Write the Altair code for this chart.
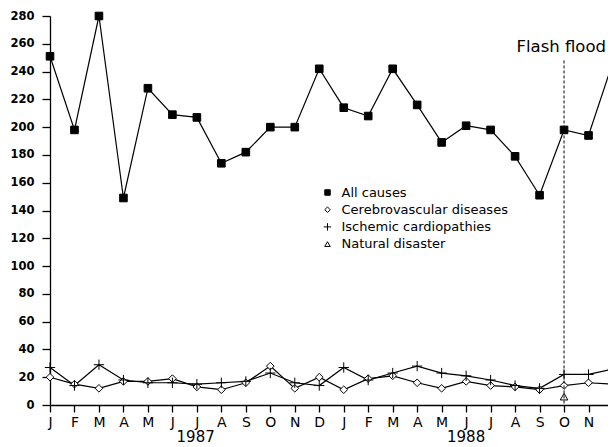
import altair as alt
import pandas as pd

month_letters = ["J", "F", "M", "A", "M", "J", "J", "A", "S", "O", "N", "D"] * 2
all_causes = [251, 198, 280, 149, 228, 209, 207, 174, 182, 200, 200, 242,
              214, 208, 242, 216, 189, 201, 198, 179, 151, 198, 194, 247]
cerebro = [20, 15, 12, 17, 17, 19, 13, 11, 16, 28, 12, 20,
           11, 19, 21, 16, 12, 17, 14, 13, 11, 14, 16, 15]
ischemic = [27, 14, 29, 18, 16, 16, 15, 16, 17, 23, 16, 14,
            27, 18, 23, 28, 23, 21, 18, 14, 12, 22, 22, 26]
natural_idx = [21]
natural = [6]
series_names = ["All causes", "Cerebrovascular diseases", "Ischemic cardiopathies", "Natural disaster"]
years = ["1987", "1988"]
year_pos = [5.95, 17.0]
flood_idx = [21]
flood_top = [248]
flood_label = ["Flash flood"]

rows = []
for i in range(24):
    rows.append({"idx": i, "value": all_causes[i], "series": series_names[0]})
    rows.append({"idx": i, "value": cerebro[i], "series": series_names[1]})
    rows.append({"idx": i, "value": ischemic[i], "series": series_names[2]})
for i, v in zip(natural_idx, natural):
    rows.append({"idx": i, "value": v, "series": series_names[3]})
df = pd.DataFrame(rows)

label_expr = "[" + ",".join("'%s'" % m for m in month_letters) + "][datum.value]"

xscale = alt.Scale(domain=[0, 23], nice=False, zero=False)
yscale = alt.Scale(domain=[0, 280], nice=False)

x_axis = alt.Axis(values=list(range(24)), labelExpr=label_expr, title=None,
                  grid=False, tickSize=7, labelPadding=3, labelFont="DejaVu Sans",
                  labelFontSize=14, labelColor="black", domainColor="black",
                  tickColor="black", domainWidth=1.3, tickWidth=1.3,
                  labelFlush=False, labelOverlap=False)
y_axis = alt.Axis(values=list(range(0, 281, 20)), title=None, grid=False,
                  tickSize=8, labelPadding=8, labelFont="DejaVu Sans",
                  labelFontWeight="bold", labelFontSize=11.5, labelColor="black",
                  domainColor="black", tickColor="black", domainWidth=1.3,
                  tickWidth=1.3, labelOverlap=False, labelFlush=False)

x = alt.X("idx:Q", scale=xscale, axis=x_axis)
y = alt.Y("value:Q", scale=yscale, axis=y_axis)

base = alt.Chart(df)

lines = base.transform_filter(alt.datum.series != "Natural disaster").mark_line(
    color="black", strokeWidth=1.2).encode(x=x, y=y, detail="series:N")

plus_path = "M-1.35,0H1.35M0,-1.35V1.35"
legend = alt.Legend(title=None, orient="none", legendX=271, legendY=170,
                    labelFont="DejaVu Sans", labelFontSize=13, labelColor="black",
                    labelLimit=0, symbolSize=30, symbolStrokeWidth=1,
                    rowPadding=3.2, labelOffset=7.5, padding=0)
points = base.mark_point(filled=False, strokeWidth=1, opacity=1, size=58).encode(
    x=x, y=y,
    shape=alt.Shape("series:N", scale=alt.Scale(domain=series_names,
                    range=["square", "diamond", plus_path, "triangle-up"]), legend=legend),
    fill=alt.Fill("series:N", scale=alt.Scale(domain=series_names,
                  range=["black", "white", "white", "white"]), legend=legend),
    stroke=alt.Stroke("series:N", scale=alt.Scale(domain=series_names,
                      range=["black", "black", "black", "black"]), legend=legend),
)

flood_df = pd.DataFrame({"idx": flood_idx, "top": flood_top, "label": flood_label})
flood_rule = alt.Chart(flood_df).mark_rule(color="black", strokeDash=[3, 2], strokeWidth=1).encode(
    x=alt.X("idx:Q", scale=xscale, axis=x_axis),
    y=alt.Y("top:Q", scale=yscale, axis=y_axis), y2=alt.datum(0))
flood_text = alt.Chart(flood_df).mark_text(font="DejaVu Sans", fontSize=16.5, color="black",
                                           baseline="alphabetic", align="right",
                                           dx=42, dy=-8).encode(
    x=alt.X("idx:Q", scale=xscale, axis=x_axis),
    y=alt.Y("top:Q", scale=yscale, axis=y_axis), text="label:N")

year_df = pd.DataFrame({"idx": year_pos, "year": years})
year_text = alt.Chart(year_df).mark_text(font="DejaVu Sans", fontSize=15, color="black",
                                         baseline="alphabetic").encode(
    x=alt.X("idx:Q", scale=xscale, axis=x_axis), y=alt.value(426), text="year:N")

chart = alt.layer(lines, points, flood_rule, flood_text, year_text).properties(
    width=563, height=389,
    background="white",
    autosize=alt.AutoSizeParams(type="none"),
    padding={"left": 42, "top": 8, "right": -5, "bottom": 42},
).configure_view(stroke=None)

chart.save("out.html", embed_options={"renderer": "svg", "actions": False})
